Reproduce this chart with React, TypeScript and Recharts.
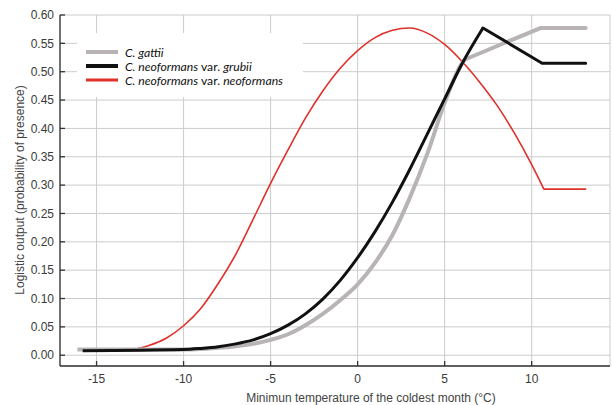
import React from "react";
import {
  LineChart,
  Line,
  XAxis,
  YAxis,
  CartesianGrid,
  Legend,
  Label,
} from "recharts";

// x = minimum temperature of the coldest month (°C), y = logistic output
const gattiiX = [-16.1, -10, -9, -8, -7, -6, -5, -4, -3, -2, -1, 0, 1, 2, 3, 4, 5, 6, 6.2, 10.5, 13.1];
const gattiiY = [0.01, 0.01, 0.011, 0.013, 0.016, 0.02, 0.027, 0.037, 0.053, 0.073, 0.097, 0.125, 0.163, 0.212, 0.278, 0.355, 0.445, 0.515, 0.522, 0.577, 0.577];

const grubiiX = [-15.8, -10, -9, -8, -7, -6, -5, -4, -3, -2, -1, 0, 1, 2, 3, 4, 5, 6, 7.2, 10.6, 13.1];
const grubiiY = [0.008, 0.01, 0.012, 0.015, 0.02, 0.027, 0.038, 0.053, 0.073, 0.099, 0.132, 0.172, 0.218, 0.27, 0.328, 0.39, 0.452, 0.514, 0.577, 0.515, 0.515];

const neoX = [-15.7, -13, -12, -11, -10, -9, -8, -7, -6, -5, -4, -3, -2, -1, 0, 1, 2, 3, 4, 5, 6, 7, 8, 9, 10, 10.7, 13.1];
const neoY = [0.01, 0.01, 0.017, 0.03, 0.052, 0.083, 0.127, 0.178, 0.24, 0.303, 0.362, 0.418, 0.466, 0.506, 0.537, 0.56, 0.573, 0.577, 0.568, 0.548, 0.518, 0.482, 0.441, 0.392, 0.336, 0.293, 0.293];

// index where each curve turns into straight segments (sharp corners in the source)
const gattiiKink = 18;
const grubiiKink = 18;
const neoKink = 25;

const xTicks = [-15, -10, -5, 0, 5, 10];
const yTicks = [0, 0.05, 0.1, 0.15, 0.2, 0.25, 0.3, 0.35, 0.4, 0.45, 0.5, 0.55, 0.6];

const toPoints = (xs: number[], ys: number[]) => xs.map((x, i) => ({ x, y: ys[i] }));

const gattii = toPoints(gattiiX, gattiiY);
const grubii = toPoints(grubiiX, grubiiY);
const neo = toPoints(neoX, neoY);

const GRAY = "#b8b4b6";
const BLACK = "#111111";
const RED = "#e0302a";
const AXIS = "#333333";
const FONT = "'Liberation Sans', Arial, sans-serif";

const legendItems = [
  { color: GRAY, width: 4, parts: [["C. gattii", true]] },
  { color: BLACK, width: 4, parts: [["C. neoformans", true], [" var. ", false], ["grubii", true]] },
  { color: RED, width: 3, parts: [["C. neoformans", true], [" var. ", false], ["neoformans", true]] },
] as { color: string; width: number; parts: [string, boolean][] }[];

const LegendBox = () => (
  <div
    style={{
      background: "#fff",
      width: 226,
      height: 64,
      boxSizing: "border-box",
      padding: "12px 0 0 9px",
      fontFamily: "Lato, sans-serif",
      fontSize: 12.2,
      color: "#111",
    }}
  >
    {legendItems.map((it, i) => (
      <div key={i} style={{ display: "flex", alignItems: "center", height: 14 }}>
        <svg width={32} height={6} style={{ marginRight: 7 }}>
          <line x1={0} y1={3} x2={32} y2={3} stroke={it.color} strokeWidth={it.width} />
        </svg>
        <span style={{ whiteSpace: "pre" }}>
          {it.parts.map(([t, ital], j) => (
            <span key={j} style={{ fontStyle: ital ? "italic" : "normal" }}>
              {t}
            </span>
          ))}
        </span>
      </div>
    ))}
  </div>
);

const tickStyle = { fontSize: 12, fill: "#3a3a3a", fontFamily: FONT };

const series = [
  { pts: neo, kink: neoKink, color: RED, width: 1.6 },
  { pts: gattii, kink: gattiiKink, color: GRAY, width: 4 },
  { pts: grubii, kink: grubiiKink, color: BLACK, width: 3 },
];

export default function App() {
  return (
    <div style={{ position: "absolute", left: 0, top: 0, background: "#fff" }}>
      <LineChart
        width={612}
        height={405}
        margin={{ top: 15, right: 2, bottom: 0, left: 0 }}
      >
        <CartesianGrid stroke="#cccccc" strokeWidth={1} />
        <XAxis
          dataKey="x"
          type="number"
          domain={[-17.1, 14.5]}
          ticks={xTicks}
          allowDataOverflow
          height={39}
          stroke={AXIS}
          strokeWidth={1.3}
          tickSize={-5}
          tickMargin={13}
          tick={tickStyle}
        >
          <Label
            content={() => (
              <text
                x={371}
                y={402}
                textAnchor="middle"
                fontSize={12}
                fill="#444"
                fontFamily={FONT}
              >
                Minimun temperature of the coldest month (°C)
              </text>
            )}
          />
        </XAxis>
        <XAxis
          xAxisId="top"
          orientation="top"
          dataKey="x"
          type="number"
          domain={[-17.1, 14.5]}
          ticks={xTicks}
          allowDataOverflow
          height={0}
          stroke={AXIS}
          strokeWidth={1.3}
          tickSize={-5}
          tickFormatter={() => ""}
        />
        <YAxis
          type="number"
          domain={[-0.019, 0.6]}
          ticks={yTicks}
          allowDataOverflow
          width={60}
          stroke={AXIS}
          strokeWidth={1.3}
          tickSize={-5}
          tickMargin={11}
          tick={tickStyle}
          tickFormatter={(v: number) => v.toFixed(2)}
        >
          <Label
            content={() => (
              <text
                x={20}
                y={190}
                transform="rotate(-90 20 190)"
                textAnchor="middle"
                dominantBaseline="central"
                fontSize={12}
                fill="#444"
                fontFamily={FONT}
              >
                Logistic output (probability of presence)
              </text>
            )}
          />
        </YAxis>
        <YAxis
          yAxisId="right"
          orientation="right"
          type="number"
          domain={[-0.019, 0.6]}
          ticks={yTicks}
          allowDataOverflow
          width={0}
          stroke={AXIS}
          strokeWidth={1.3}
          tickSize={-5}
          tickFormatter={() => ""}
        />
        <Legend
          layout="vertical"
          align="center"
          verticalAlign="middle"
          wrapperStyle={{ left: 77, top: 33, width: 226 }}
          content={() => <LegendBox />}
        />
        {series.flatMap((s, i) => [
          <Line
            key={`c${i}`}
            data={s.pts.slice(0, s.kink + 1)}
            dataKey="y"
            type="monotone"
            stroke={s.color}
            strokeWidth={s.width}
            strokeLinejoin="round"
            dot={false}
            isAnimationActive={false}
          />,
          <Line
            key={`s${i}`}
            data={s.pts.slice(s.kink)}
            dataKey="y"
            type="linear"
            stroke={s.color}
            strokeWidth={s.width}
            strokeLinejoin="round"
            strokeLinecap="round"
            dot={false}
            isAnimationActive={false}
          />,
        ])}
      </LineChart>
    </div>
  );
}
